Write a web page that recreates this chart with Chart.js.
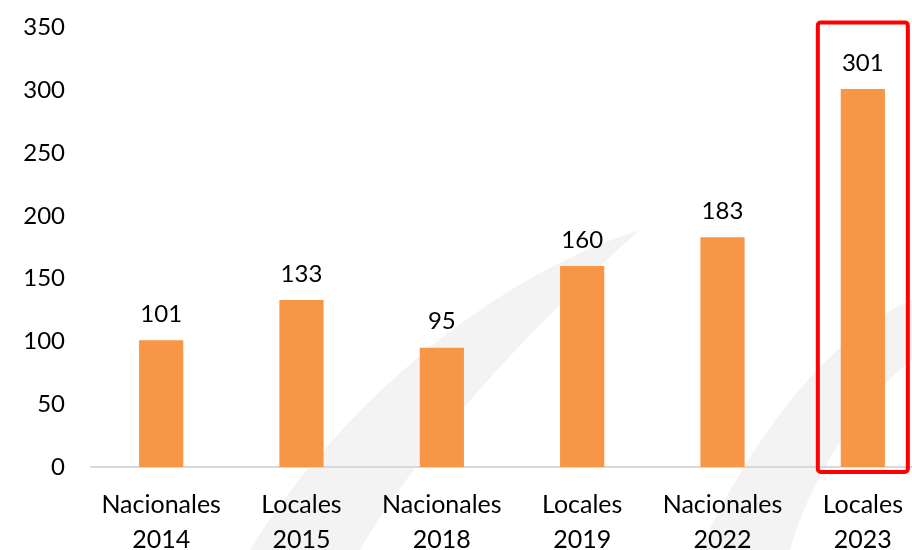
<!DOCTYPE html>
<html><head><meta charset="utf-8">
<script src="https://cdn.jsdelivr.net/npm/chart.js@4/dist/chart.umd.min.js"></script>
<style>html,body{margin:0;padding:0;background:#fff;overflow:hidden}#o{width:912px;height:550px;position:relative;overflow:hidden}#w{width:933px;height:563px;position:absolute;left:0;top:-13px}</style>
</head><body><div id="o"><div id="w"><canvas id="c"></canvas></div></div>
<script>
const categories = [["Nacionales","2014"],["Locales","2015"],["Nacionales","2018"],["Locales","2019"],["Nacionales","2022"],["Locales","2023"]];
const values = [101,133,95,160,183,301];
const yTicks = [0,50,100,150,200,250,300,350];
const highlightIndex = 5;
const FONT = "'Lato','Open Sans',sans-serif";

const bgPlugin = {
  id:'bg',
  beforeDraw(chart){
    const ctx = chart.ctx;
    ctx.save();
    ctx.translate(0,13);
    ctx.fillStyle = '#f3f3f3';
    ctx.beginPath();
    ctx.moveTo(250,550);
    ctx.bezierCurveTo(330,420,480,280,640,230);
    ctx.bezierCurveTo(560,300,430,430,360,550);
    ctx.closePath();
    ctx.fill();
    ctx.beginPath();
    ctx.moveTo(700,550);
    ctx.bezierCurveTo(760,420,840,330,912,300);
    ctx.lineTo(912,360);
    ctx.bezierCurveTo(860,400,810,480,790,550);
    ctx.closePath();
    ctx.fill();
    ctx.restore();
  }
};

const labelPlugin = {
  id:'labels',
  afterDatasetsDraw(chart){
    const ctx = chart.ctx;
    const meta = chart.getDatasetMeta(0);
    ctx.save();
    ctx.font = '24px ' + FONT;
    ctx.fillStyle = '#000';
    ctx.textAlign = 'center';
    ctx.textBaseline = 'bottom';
    meta.data.forEach((bar,i)=>{
      ctx.fillText(String(values[i]), bar.x, bar.y - 14);
    });
    const xs = chart.scales.x, ys = chart.scales.y;
    const cx = xs.getPixelForValue(highlightIndex);
    const w = 90;
    const top = ys.getPixelForValue(350) - 5;
    const bottom = ys.getPixelForValue(0) + 5;
    ctx.strokeStyle = '#ff0000';
    ctx.lineWidth = 4;
    ctx.beginPath();
    if (ctx.roundRect) ctx.roundRect(cx - w/2, top, w, bottom-top, 3); else ctx.rect(cx - w/2, top, w, bottom-top);
    ctx.stroke();
    ctx.restore();
  }
};

new Chart(document.getElementById('c'), {
  type:'bar',
  data:{ labels: categories, datasets:[{ data: values, backgroundColor:'#F79646', barPercentage:0.63, categoryPercentage:0.5 }]},
  options:{
    responsive:true, maintainAspectRatio:false, animation:false,
    layout:{ padding:0 },
    plugins:{ legend:{display:false}, tooltip:{enabled:false} },
    scales:{
      y:{ min:0, max:350, afterBuildTicks(s){ s.ticks = yTicks.map(v=>({value:v})); },
        grid:{ display:false, drawTicks:false }, border:{display:false},
        ticks:{ color:'#000', font:{size:24, family:FONT}, padding:26 },
        afterFit(s){ s.width = 91; } },
      x:{ grid:{ display:false, drawTicks:false }, border:{ display:true, color:'#d9d9d9', width:2 },
        ticks:{ color:'#000', font:{size:25, family:FONT, lineHeight:1.4}, padding:20, maxRotation:0, autoSkip:false },
        afterFit(s){ s.height = 83; } }
    }
  },
  plugins:[bgPlugin,labelPlugin]
});
</script></body></html>
